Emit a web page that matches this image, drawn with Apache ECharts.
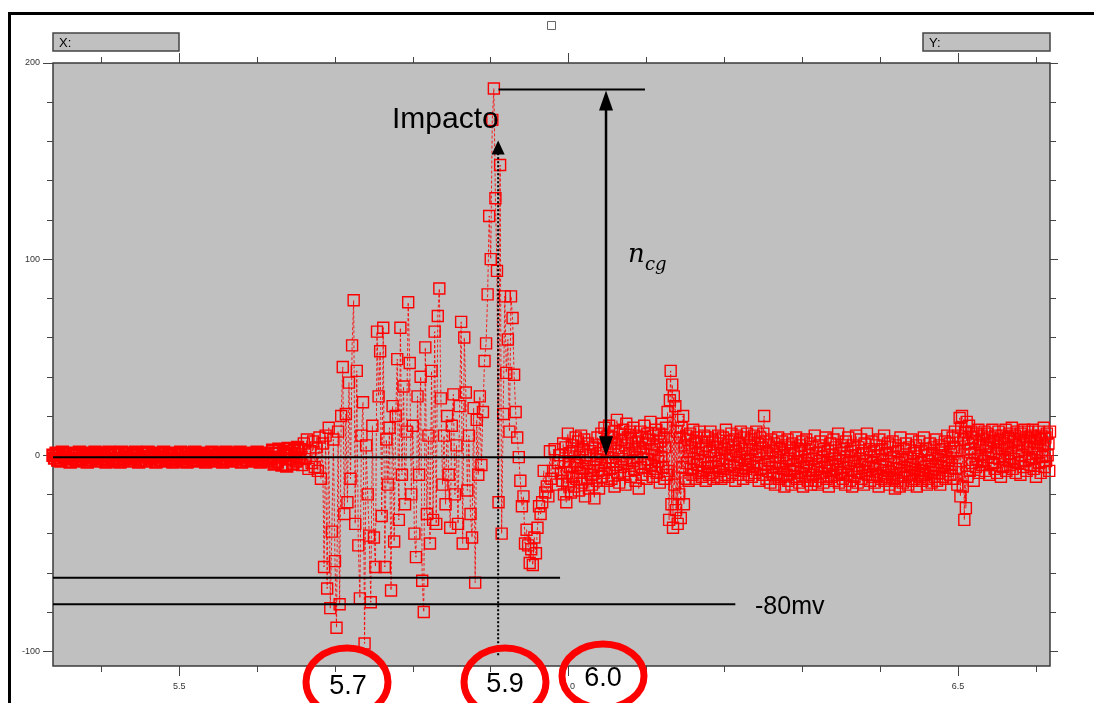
<!DOCTYPE html>
<html>
<head>
<meta charset="utf-8">
<title>Impacto</title>
<script src="https://cdn.jsdelivr.net/npm/echarts@6/dist/echarts.min.js"></script>
<style>
  html, body { margin: 0; padding: 0; background: #fff; }
  #chart { width: 1094px; height: 703px; }
</style>
</head>
<body>
<div id="chart"></div>
<script>
var flatStart = 5.338, flatStep = 0.002;
var flatValues = [
  0,-1.5,1,-2.5,0.5,-3,1.5,-1,-0.5,-2,1,-3.5,-1.5,0,0.5,-3,-2.5,1.5,-2,-0.5,
  -1,0.5,-3.5,1,-2.5,0,-1.5,1.5,-3,-0.5,0.5,-2,1,-1,-3.5,-2.5,1.5,0,-1.5,-3,
  1,-2,0.5,-3.5,1.5,-2.5,-0.5,-1,1,-3,-1.5,0,-2,1.5,0.5,-3.5,-2.5,1,-1,-0.5,
  -3,1.5,-1.5,-2,0,0.5,-3.5,-1,1,-2.5,-0.5,1.5,-3,-1.5,0.5,-2,0,-3.5,1,-2.5,
  0.5,-1,1.5,-3,-2,-0.5,-3.5,1,-1.5,0,-2.5,1.5,-1,-3,0.5,-0.5,-2,1,-3.5,-1.5,
  -2.5,0,1.5,-1,-3,-0.5,0.5,-2,1,-3.5,-1.5,1.5,-2.5,0,-1,-3,1,-0.5,-2,0.5,
  1.5,-3.5,-1,0,-2.5,1,-0.5,-1.5,-3,0.5,-2,1.5,-1,-3.5,0,-2.5,1,-0.5,-3,-1.5,
  -2,2.5,-4.5,1,-3.5,3,-1,-5,2,0,-5.5,3.5,-2,1,-4.5,2.5,-3,4,-1
];
var impactStart = 5.656, impactStep = 0.002;
var impactValues = [
  3,-5,6,-2,8,-7,2,-4,7,-6,
  4,-8,9,-12,6,-57,10,-68,14,-78,
  -39,8,-54,-88,12,-76,20,45,-30,21,
  -24,37,-12,56,79,-35,43,-46,-73,10,
  27,-96,5,-20,-41,-75,15,-42,-57,63,
  30,53,-31,65,-57,8,-15,14,-69,25,
  -44,20,49,-33,65,-10,35,-25,12,78,
  47,-20,15,-40,-52,30,-10,40,-64,-80,
  55,-30,10,-45,43,-33,63,-35,71,85,
  29,-15,10,-25,20,-10,-37,15,31,-20,
  5,-35,25,68,-45,60,32,-18,10,-30,
  -42,24,-65,18,-10,30,-5,22,48,57,
  82,122,100,171,187,131,94,-24,148,-40,
  21,81,42,59,12,81,70,41,22,9,
  -1,-13,-26,-21,-45,-38,-46,-55,-48,-56,
  -42,-50,-37,-26,-30,-24,-8,-19,-16,-21,
  2,-12,-8,3,-15,-4,0,-9
];
var tailStart = 5.992, tailStep = 0.001;
var tailValues = [
  -13,6,-20,-3,4,-24,-9,11,-15,1,-6,-19,5,-11,2,-16,-3,9,-12,-5,
  7,-18,-1,-9,10,-14,3,-7,8,-21,0,-4,-12,6,-17,-8,2,-10,-15,4,
  -6,-22,5,-2,-13,9,-8,-17,1,-5,11,-11,3,-9,14,-4,7,-13,10,-1,
  15,-7,4,-12,9,-3,12,-16,6,-5,18,-9,2,-14,11,-6,8,-2,13,-10,
  5,-15,16,-4,9,-8,1,12,-11,6,-3,14,-7,3,-13,10,-1,7,-17,4,
  12,-6,9,-10,2,15,-4,6,-12,11,-2,8,-8,17,-5,3,-11,10,0,-7,
  13,-9,5,-3,11,-14,7,-1,16,-6,9,-12,4,14,-10,22,-8,-33,28,43,
  -25,36,-37,30,-15,25,-28,12,-35,18,-20,9,-32,14,-6,20,-25,5,-12,10,
  -4,8,-13,2,11,-7,4,-10,13,-2,6,-12,9,-5,1,-9,12,-3,7,-11,
  3,-8,10,-1,-13,5,-6,9,-10,2,12,-4,-9,7,-12,0,8,-6,4,-11,
  10,-3,-8,6,-12,1,9,-7,3,-10,13,-2,5,-11,7,-5,0,11,-9,4,
  -6,8,-13,2,10,-4,-10,6,-1,12,-8,3,-12,9,-5,1,-7,11,-3,-10,
  5,-2,8,-11,3,-6,10,-9,0,12,-4,6,-13,2,9,-7,4,-10,11,20,
  -5,7,-12,1,-8,5,-3,-14,8,-6,2,-10,6,-15,-1,4,-9,9,-12,-4,
  3,-11,7,-7,0,-16,5,-3,-10,8,-13,-2,4,-8,-15,6,-5,1,-11,-7,
  9,-12,-3,2,-14,5,-9,-1,7,-16,-6,3,-11,8,-4,-13,0,-8,6,-15,
  -2,4,-10,-6,10,-13,1,-7,-15,5,-3,-11,7,-9,-1,-14,3,-6,9,-12,
  -4,2,-16,-8,6,-11,0,-5,8,-13,-2,4,-10,-7,11,-14,-3,1,-9,5,
  -12,-6,3,-15,7,-1,-10,9,-4,-13,2,-8,-16,5,-3,-11,0,10,-7,-14,
  4,-9,-2,8,-12,-5,1,-15,6,-8,-3,11,-10,-6,3,-13,-1,7,-11,-4,
  2,-14,-7,5,-10,0,-16,8,-5,-12,3,-2,-9,10,-13,-6,1,-11,6,-8,
  -15,4,-3,-10,7,-12,-1,-17,5,-7,-13,2,-4,-16,9,-9,-2,-14,3,-6,
  -11,6,-8,-1,-15,4,-10,-5,8,-13,-3,1,-12,-7,5,-16,-2,-9,7,-11,
  -4,2,-13,-8,9,-10,-6,3,-15,0,-12,-3,6,-9,-14,1,-7,4,-11,-5,
  8,-13,-2,-9,5,-15,0,-6,3,-11,-4,7,-12,-1,10,-8,-3,6,-10,2,
  -5,9,-12,4,12,-7,2,-15,10,-3,19,-21,14,20,-16,8,-33,12,-27,17,
  -11,6,15,-8,3,12,-4,9,-13,1,7,-6,11,-2,13,-9,5,0,10,-5,
  8,-3,12,-8,4,11,-1,6,-10,9,2,-5,13,-4,7,-7,10,1,-9,5,
  12,-2,8,-11,3,10,-6,6,-1,13,-8,4,9,-3,11,-5,1,14,-7,7,
  -2,10,-9,5,12,-4,2,8,-10,11,0,6,-6,13,-3,9,-8,4,12,-1,
  7,-5,10,-2,13,-7,3,9,-11,6,1,12,-4,8,-9,10,-1,5,14,-6,
  9,-3,11,0,6,-8,12,-2,7
];

// axis ranges and ticks
var xMin = 5.338, xMax = 6.618;
var yMin = -107.5, yMax = 200;
var xMajorTicks = [5.5, 6.0, 6.5];
var xMinorTicks = [5.4, 5.6, 5.7, 5.8, 5.9, 6.1, 6.2, 6.3, 6.4, 6.6];
var yMajorTicks = [-100, 0, 100, 200];
var yMinorTicks = [-80, -60, -40, -20, 20, 40, 60, 80, 120, 140, 160, 180];

// annotation levels
var peakLevel = 186.5;
var zeroLevel = -1;
var lowLevel1 = -62.5;
var lowLevel2 = -76;
var impactX = 5.9095;
var ncgX = 6.048;

function buildSeries(start, step, values, itemStyle) {
  var out = [];
  for (var i = 0; i < values.length; i++) {
    var p = [+(start + i * step).toFixed(4), values[i]];
    out.push(itemStyle ? { value: p, itemStyle: itemStyle } : p);
  }
  return out;
}
// the pre-impact baseline is so dense on the scope that it prints as a solid band
var signal = buildSeries(flatStart, flatStep, flatValues, { borderWidth: 2.4 })
  .concat(buildSeries(impactStart, impactStep, impactValues))
  .concat(buildSeries(tailStart, tailStep, tailValues));

var tickColor = '#444';
var labelFont = 'Liberation Sans, Arial, sans-serif';

function xAxisDef(position, ticks, len, withLabels) {
  return {
    type: 'value', position: position, min: xMin, max: xMax,
    axisLine: { show: false, onZero: false },
    axisTick: { show: true, inside: false, length: len, customValues: ticks, lineStyle: { color: tickColor, width: 1 } },
    axisLabel: {
      show: withLabels, customValues: ticks, margin: 16,
      color: '#333', fontSize: 9, fontFamily: labelFont,
      formatter: function (v) { return v.toFixed(1); }
    },
    splitLine: { show: false }
  };
}
function yAxisDef(position, ticks, len, withLabels) {
  return {
    type: 'value', position: position, min: yMin, max: yMax,
    axisLine: { show: false, onZero: false },
    axisTick: { show: true, inside: false, length: len, customValues: ticks, lineStyle: { color: tickColor, width: 1 } },
    axisLabel: {
      show: withLabels, customValues: ticks, margin: 13,
      color: '#333', fontSize: 9, fontFamily: labelFont,
      formatter: function (v) { return String(v); }
    },
    splitLine: { show: false }
  };
}

var chart = echarts.init(document.getElementById('chart'));

chart.setOption({
  animation: false,
  backgroundColor: '#fff',
  grid: {
    left: 53, right: 44, top: 63, bottom: 37,
    show: true, backgroundColor: '#c0c0c0',
    borderColor: '#3a3a3a', borderWidth: 1.5,
    containLabel: false, outerBoundsMode: 'none'
  },
  xAxis: [
    xAxisDef('bottom', xMajorTicks, 10, true),
    xAxisDef('bottom', xMinorTicks, 6, false),
    xAxisDef('top', xMajorTicks, 10, false),
    xAxisDef('top', xMinorTicks, 6, false)
  ],
  yAxis: [
    yAxisDef('left', yMajorTicks, 10, true),
    yAxisDef('left', yMinorTicks, 6, false),
    yAxisDef('right', yMajorTicks, 8, false),
    yAxisDef('right', yMinorTicks, 6, false)
  ],
  series: [{
    type: 'line',
    data: signal,
    xAxisIndex: 0, yAxisIndex: 0,
    symbol: 'rect', symbolSize: 11, showAllSymbol: true,
    lineStyle: { color: 'rgba(255,0,0,0.85)', width: 1, type: [3, 2] },
    itemStyle: { color: 'rgba(0,0,0,0)', borderColor: '#ff0000', borderWidth: 1.4 },
    emphasis: { disabled: true },
    silent: true,
    z: 2
  }]
});

// annotations on top
function P(x, y) { return chart.convertToPixel({ gridIndex: 0 }, [x, y]); }
function seg(a, b, style) {
  return { type: 'line', z: 100, shape: { x1: a[0], y1: a[1], x2: b[0], y2: b[1] }, style: style };
}
function head(tip, dir, w, h) {
  // dir: -1 arrow pointing up, 1 pointing down
  return {
    type: 'polygon', z: 101,
    shape: { points: [[tip[0], tip[1]], [tip[0] - w / 2, tip[1] - dir * h], [tip[0] + w / 2, tip[1] - dir * h]] },
    style: { fill: '#000' }
  };
}
function txt(s, x, y, font, align, valign) {
  return {
    type: 'text', z: 110,
    style: { text: s, x: x, y: y, font: font, fill: '#000',
      align: align, verticalAlign: valign, textAlign: align, textVerticalAlign: valign }
  };
}
function ring(cx, cy, rx, ry) {
  return { type: 'ellipse', z: 105, shape: { cx: cx, cy: cy, rx: rx, ry: ry },
    style: { fill: 'none', stroke: '#ff0000', lineWidth: 7 } };
}

var solid = { stroke: '#000', lineWidth: 2 };
var dotted = { stroke: '#000', lineWidth: 2, lineDash: [2, 2] };

var impTip = P(impactX, 160.5);
var impBase = P(impactX, -102);
var ncgTop = P(ncgX, peakLevel);
var ncgBot = P(ncgX, zeroLevel);

var g = [
  { type: 'rect', z: 90, shape: { x: 9.5, y: 13.5, width: 1110, height: 720 }, style: { fill: 'none', stroke: '#000', lineWidth: 3 } },
  { type: 'rect', z: 90, shape: { x: 53, y: 33, width: 126, height: 18 }, style: { fill: '#c0c0c0', stroke: '#444', lineWidth: 1.5 } },
  { type: 'rect', z: 90, shape: { x: 923, y: 33, width: 127, height: 18 }, style: { fill: '#c0c0c0', stroke: '#444', lineWidth: 1.5 } },
  { type: 'rect', z: 90, shape: { x: 547.5, y: 21.5, width: 8, height: 8 }, style: { fill: '#fff', stroke: '#666', lineWidth: 1 } },
  txt('X:', 59, 43, '13px ' + labelFont, 'left', 'middle'),
  txt('Y:', 929, 43, '13px ' + labelFont, 'left', 'middle'),

  seg(P(impactX + 0.0005, peakLevel), P(6.098, peakLevel), solid),
  seg(P(xMin, zeroLevel), P(6.102, zeroLevel), solid),
  seg(P(xMin, lowLevel1), P(5.989, lowLevel1), solid),
  seg(P(xMin, lowLevel2), P(6.214, lowLevel2), solid),

  seg(impBase, [impTip[0], impTip[1] + 12], dotted),
  head(impTip, -1, 13, 14),

  seg([ncgTop[0], ncgTop[1] + 16], [ncgBot[0], ncgBot[1] - 16], { stroke: '#000', lineWidth: 2.5 }),
  head([ncgTop[0], ncgTop[1] + 1], -1, 14, 20),
  head([ncgBot[0], ncgBot[1] - 1], 1, 14, 20),

  txt('Impacto', 392, 120, '30px ' + labelFont, 'left', 'middle'),
  txt('n', 628, 255, 'italic 26px "DejaVu Serif", serif', 'left', 'middle'),
  txt('cg', 645, 265, 'italic 18px "DejaVu Serif", serif', 'left', 'middle'),
  txt('-80mv', 755, 607, '25px ' + labelFont, 'left', 'middle'),

  ring(347, 682, 41, 34),
  ring(505, 682, 41, 34),
  ring(603, 676, 41, 32),
  txt('5.7', 348, 687, '27px ' + labelFont, 'center', 'middle'),
  txt('5.9', 505, 685, '27px ' + labelFont, 'center', 'middle'),
  txt('6.0', 603, 679, '27px ' + labelFont, 'center', 'middle')
];

chart.setOption({ graphic: { elements: g } });
</script>
</body>
</html>
